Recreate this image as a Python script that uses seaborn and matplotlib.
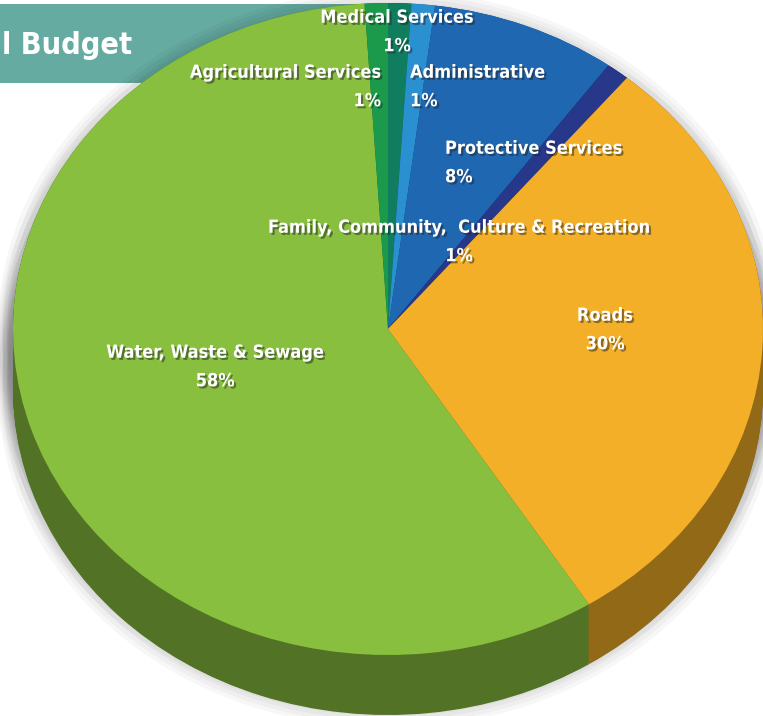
import numpy as np
import pandas as pd
import matplotlib
matplotlib.use("Agg")
import matplotlib.pyplot as plt
import matplotlib.patheffects as pe
from matplotlib import font_manager as fm
from matplotlib.patches import Rectangle
import seaborn as sns

sns.set_theme(style="white")

# pick a narrow / condensed face if one is installed
narrow = None
for f in fm.fontManager.ttflist:
    if "Narrow" in f.name or "Condensed" in f.name or str(f.stretch) in ("condensed", "semi-condensed", "extra-condensed"):
        narrow = f
        if f.weight in ("bold", 700):
            break
if narrow is not None:
    plt.rcParams['font.family'] = [narrow.name, 'DejaVu Sans']
    plt.rcParams['font.stretch'] = narrow.stretch
    LABEL_SIZE, TITLE_SIZE, LSP = 13, 22, 1.75
else:
    plt.rcParams['font.family'] = ['DejaVu Sans']
    LABEL_SIZE, TITLE_SIZE, LSP = 11.5, 19, 2.0

# data, clockwise from 12 o'clock
categories = ["Medical Services", "Administrative", "Protective Services",
              "Family, Community,  Culture & Recreation", "Roads",
              "Water, Waste & Sewage", "Agricultural Services"]
shares = [1, 1, 8, 1, 30, 58, 1]
pct_labels = ["1%", "1%", "8%", "1%", "30%", "58%", "1%"]
title_text = "l Budget"

df = pd.DataFrame({"category": categories, "share": shares, "pct": pct_labels})

top_colors = ["#0f7d5e", "#2a90d0", "#1f67b1", "#27378a", "#f2af27", "#88bf3f", "#1c9a4c"]
side_colors = [tuple(np.array(c) * 0.6) for c in sns.color_palette(top_colors)]

W, H = 763, 716
CX, CY, RX, RY = 388, 329, 375, 326   # pie centre / semi axes in pixels
DEPTH = 60 / RY

fig = plt.figure(figsize=(W / 100, H / 100), dpi=100)
ax = fig.add_axes([0, 0, 1, 1])
ax.patch.set_visible(False)

# soft shadow round the pie
for r in [1.04, 1.028, 1.016]:
    for off in np.linspace(0, -DEPTH, 6):
        ax.pie([1], radius=r, center=(0, off), colors=["black"],
               wedgeprops=dict(linewidth=0, alpha=0.03))

# side wall: stacked darker pies
for off in np.linspace(-DEPTH, 0, 45):
    ax.pie(df["share"], radius=1, center=(0, off), colors=side_colors,
           startangle=90, counterclock=False,
           wedgeprops=dict(linewidth=0))

# top face
ax.pie(df["share"], radius=1, center=(0, 0), colors=top_colors,
       startangle=90, counterclock=False,
       wedgeprops=dict(linewidth=0))

ax.set_aspect("auto")
ax.set_xlim(-CX / RX, (W - CX) / RX)
ax.set_ylim(-(H - CY) / RY, CY / RY)
ax.axis("off")

# banner behind the pie
ax.add_patch(Rectangle((0, 1 - 83 / H), 360 / W, 79 / H, transform=ax.transAxes,
                       facecolor="#65aba1", edgecolor="none", zorder=0))
ax.text(2 / W, 1 - 46 / H, title_text, transform=ax.transAxes, ha="left", va="center",
        fontsize=TITLE_SIZE, fontweight="bold", color="white", zorder=0.5)

# label positions (pixels) and alignment
label_pos = [(397, 32, "center"), (410, 87, "left"), (445, 163, "left"),
             (459, 242, "center"), (605, 330, "center"), (215, 367, "center"),
             (381, 87, "right")]

shadow = [pe.withSimplePatchShadow(offset=(1.5, -1.5), shadow_rgbFace="#222222", alpha=0.5)]
for (px, py, ha), name, pct in zip(label_pos, df["category"], df["pct"]):
    ax.text((px - CX) / RX, (CY - py) / RY, f"{name}\n{pct}", ha=ha, va="center",
            multialignment=ha, linespacing=LSP, fontsize=LABEL_SIZE, fontweight="bold",
            color="white", zorder=10, path_effects=shadow)

fig.savefig("out.png", dpi=100)
